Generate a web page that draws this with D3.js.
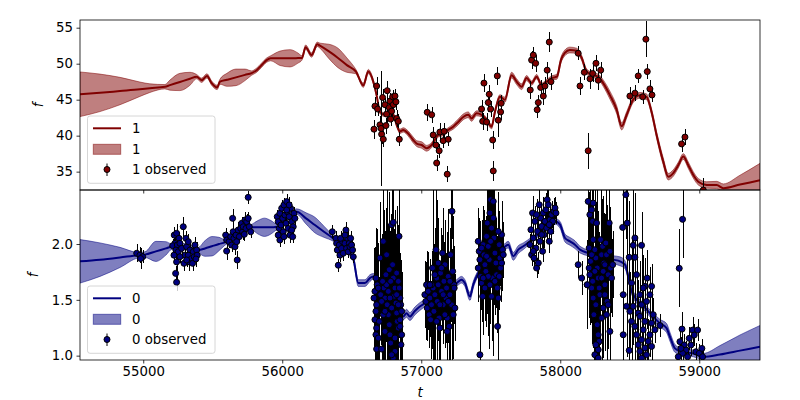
<!DOCTYPE html>
<html><head><meta charset="utf-8">
<script src="https://cdn.jsdelivr.net/npm/d3@7"></script>
<style>body{margin:0;background:#fff} text{font-family:"DejaVu Sans",sans-serif}</style>
</head><body><svg id="c" width="800" height="400"></svg>
<script>
const xTicks = [55000,56000,57000,58000,59000];
const yTicks1 = [35,40,45,50,55];
const yTicks0 = [1.0,1.5,2.0];
const xDomain = [54545,59437];
const yDomain1 = [32.45,56.07];
const yDomain0 = [0.961,2.484];
const seriesNames = ["1","0"];

// model prediction [t, mean, sd]
const model1 = [[54545,45.75,3.1],[54689,45.95,2.6],[54833,46.2,1.9],[54976,46.45,1.0],[55048,46.6,0.6],[55156,46.8,0.3],[55192,47.02,0.7],[55264,47.46,1.2],[55336,47.9,0.9],[55384,48.2,0.3],[55420,47.7,0.3],[55458,48.3,0.3],[55492,47.3,0.3],[55532,46.7,0.3],[55552,47.5,0.35],[55602,47.76,0.9],[55667,48.1,1.15],[55732,48.45,0.8],[55780,48.7,0.3],[55816,49.1,0.3],[55852,49.8,0.3],[55888,50.5,0.3],[55917,50.75,0.35],[55984,50.75,1.0],[56056,50.75,1.2],[56113,50.78,0.7],[56142,50.8,0.3],[56168,52.3,0.3],[56211,51.2,0.3],[56252,52.7,0.3],[56271,52.5,0.35],[56336,51.7,1.0],[56401,50.8,1.35],[56465,49.8,1.0],[56530,48.9,0.3],[56583,47.0,0.3],[56619,48.9,0.3],[56655,47.5,0.3],[56679,45.6,0.25],[56703,43.3,0.25],[56739,42.9,0.25],[56798,42.9,0.25],[56823,41.5,0.25],[56847,40.6,0.3],[56870,40.8,0.3],[56906,40.3,0.35],[56942,39.4,0.4],[56967,38.9,0.4],[57003,38.7,0.45],[57039,38.25,0.4],[57075,38.7,0.35],[57122,40.1,0.3],[57158,40.3,0.3],[57194,40.8,0.3],[57230,41.25,0.35],[57266,41.9,0.4],[57302,42.6,0.4],[57338,42.9,0.4],[57362,42.4,0.4],[57398,43.1,0.35],[57434,42.9,0.3],[57470,42.2,0.3],[57506,41.25,0.3],[57530,43.3,0.3],[57566,45.4,0.3],[57602,45.0,0.35],[57650,48.4,0.4],[57686,47.5,0.4],[57722,46.8,0.4],[57758,48.0,0.35],[57794,47.3,0.3],[57830,48.2,0.3],[57866,47.0,0.3],[57902,47.5,0.3],[57938,48.0,0.3],[57976,48.2,0.35],[58005,50.5,0.4],[58033,51.5,0.4],[58069,51.9,0.4],[58118,51.8,0.35],[58154,50.8,0.35],[58190,48.9,0.35],[58237,48.4,0.35],[58273,48.2,0.35],[58309,47.3,0.45],[58358,45.6,0.55],[58406,43.6,0.55],[58442,41.3,0.5],[58478,42.9,0.45],[58525,45.0,0.4],[58573,45.6,0.4],[58621,45.4,0.4],[58657,43.3,0.4],[58693,40.1,0.45],[58741,36.4,0.5],[58777,34.3,0.45],[58813,34.8,0.45],[58849,35.9,0.4],[58885,37.1,0.4],[58921,35.9,0.45],[58957,34.55,0.45],[58993,33.6,0.45],[59053,33.15,0.45],[59125,33.15,0.5],[59173,32.7,0.6],[59293,33.2,1.3],[59437,33.8,2.35]];

const model0 = [[54545,1.845,0.195],[54689,1.86,0.15],[54833,1.88,0.09],[54964,1.90,0.025],[55012,1.905,0.025],[55091,1.934,0.09],[55163,1.961,0.06],[55204,1.976,0.025],[55300,1.98,0.025],[55396,1.946,0.025],[55444,1.96,0.07],[55494,1.98,0.087],[55545,2.0,0.06],[55588,2.015,0.025],[55696,2.08,0.025],[55780,2.15,0.025],[55825,2.15,0.06],[55872,2.15,0.082],[55919,2.15,0.06],[55960,2.155,0.025],[56034,2.23,0.025],[56104,2.29,0.025],[56171,2.23,0.05],[56235,2.17,0.07],[56300,2.11,0.05],[56367,2.05,0.025],[56451,1.96,0.025],[56511,1.87,0.025],[56547,1.65,0.03],[56595,1.65,0.03],[56631,1.695,0.03],[56655,1.71,0.025],[56761,1.55,0.025],[56870,1.35,0.03],[56894,1.38,0.035],[56918,1.35,0.035],[56954,1.40,0.035],[56990,1.44,0.035],[57026,1.47,0.03],[57134,1.55,0.025],[57254,1.65,0.03],[57290,1.68,0.03],[57314,1.65,0.03],[57350,1.53,0.035],[57374,1.635,0.03],[57410,1.74,0.025],[57494,1.86,0.02],[57590,1.964,0.025],[57626,1.994,0.03],[57662,1.89,0.035],[57698,1.95,0.035],[57734,1.98,0.03],[57854,2.1,0.02],[57962,2.203,0.025],[57998,2.173,0.03],[58034,2.054,0.035],[58070,2.024,0.035],[58106,1.994,0.035],[58142,1.95,0.03],[58271,1.90,0.025],[58381,1.86,0.035],[58430,1.845,0.04],[58466,1.815,0.035],[58489,1.71,0.03],[58514,1.576,0.03],[58609,1.43,0.03],[58717,1.29,0.035],[58765,1.247,0.04],[58789,1.17,0.04],[58825,1.065,0.035],[58873,1.035,0.03],[58957,1.02,0.03],[59029,0.99,0.03],[59149,1.01,0.08],[59293,1.045,0.14],[59437,1.08,0.19]];

// observations [t, f, err]
const observed1 = [[56679,46.9,1.2],[56667,44.1,1.3],[56686,43.7,1.0],[56660,40.9,1.3],[56703,41.5,1.2],[56715,40.2,1.3],[56727,39.5,1.1],[56722,45.3,1.2],[56739,44.3,1.0],[56751,43.0,1.2],[56755,46.25,1.3],[56770,43.9,1.0],[56775,44.8,1.1],[56787,43.4,1.2],[56794,45.4,1.0],[56799,44.3,1.1],[56811,45.5,1.0],[56818,44.7,1.1],[56823,42.4,1.2],[56835,42.0,1.0],[56842,39.5,1.0],[56780,42.3,1.0],[56711,41.0,8.0],[56746,41.4,1.1],
[57043,43.25,1.2],[57075,42.9,1.1],[57086,40.1,1.1],[57106,38.7,1.0],[57111,36.2,1.1],[57129,37.9,1.0],[57134,40.5,1.2],[57165,40.6,1.1],[57158,39.3,1.0],[57194,39.5,1.0],[57187,34.65,1.1],
[57451,47.3,1.3],[57434,43.7,1.2],[57442,42.0,1.2],[57470,41.9,1.2],[57482,44.6,1.3],[57489,45.75,1.3],[57499,43.7,1.1],[57514,39.4,1.2],[57518,35.1,1.4],[57547,48.3,1.2],[57554,42.15,2.4],[57571,43.3,1.1],[57575,44.5,1.1],
[57784,46.35,1.3],[57794,50.5,1.2],[57806,51.2,1.1],[57823,50.05,1.2],[57834,43.6,1.2],[57842,44.6,1.0],[57859,46.7,1.1],[57878,45.5,1.3],[57890,46.9,1.3],[57906,49.1,1.2],[57921,53.0,1.4],[57933,47.5,1.2],
[58129,51.45,1.0],[58142,46.9,1.3],[58173,48.8,1.1],[58201,37.9,2.5],[58214,47.9,1.4],[58233,48.65,1.2],[58257,50.05,1.1],[58273,47.7,1.4],[58291,49.1,1.1],
[58501,45.5,1.3],[58537,45.9,1.1],[58561,48.3,1.0],[58593,45.4,1.0],[58616,53.4,2.5],[58626,48.9,1.0],[58645,46.5,1.3],[58660,45.65,1.0],
[58873,38.85,1.1],[58897,39.8,1.1],[59029,32.45,1.6]];

const observed0 = [[54953,1.917,0.08],[54976,1.90,0.07],[54996,1.886,0.06],[54981,1.87,0.09],
[55223,2.08,0.07],[55240,2.096,0.08],[55257,2.051,0.06],[55228,2.006,0.07],[55212,1.985,0.06],[55245,1.991,0.07],[55264,2.006,0.06],[55235,1.946,0.08],[55252,1.931,0.07],[55276,1.961,0.06],[55288,2.155,0.09],[55307,2.051,0.07],[55312,1.976,0.06],[55324,2.021,0.07],[55336,1.946,0.06],[55300,1.90,0.07],[55324,1.90,0.06],[55331,1.84,0.08],[55348,1.87,0.07],[55360,1.931,0.06],[55372,1.991,0.07],[55367,1.886,0.06],[55384,1.946,0.07],[55388,1.90,0.06],[55355,1.827,0.07],[55240,1.84,0.08],[55233,1.737,0.07],[55240,1.657,0.08],[55264,1.886,0.06],[55293,1.827,0.07],[55312,1.857,0.06],[55379,1.866,0.07],[55221,1.90,0.06],
[55593,2.08,0.06],[55600,2.036,0.07],[55600,1.937,0.08],[55617,2.021,0.06],[55629,2.066,0.07],[55636,1.991,0.06],[55643,2.23,0.08],[55647,2.11,0.07],[55652,2.051,0.06],[55660,1.976,0.07],[55667,2.08,0.06],[55676,1.857,0.08],[55683,2.125,0.07],[55691,2.066,0.06],[55701,2.14,0.07],[55708,2.185,0.06],[55715,2.11,0.07],[55719,2.155,0.06],[55732,2.215,0.07],[55739,2.14,0.06],[55744,2.2,0.07],[55755,2.23,0.06],[55763,2.155,0.07],[55773,2.11,0.06],[55755,2.418,0.06],[55672,2.021,0.07],[55727,2.087,0.06],
[55964,2.245,0.06],[55971,2.2,0.07],[55978,2.14,0.06],[55983,2.275,0.07],[55991,2.17,0.06],[55996,2.32,0.07],[56003,2.23,0.06],[56007,2.11,0.07],[56012,2.35,0.06],[56019,2.26,0.07],[56027,2.185,0.06],[56032,2.38,0.07],[56036,2.29,0.06],[56043,2.14,0.07],[56050,2.245,0.06],[56055,2.08,0.07],[56060,2.32,0.06],[56068,2.2,0.07],[56075,2.066,0.06],[56079,2.155,0.07],[56084,2.275,0.06],[56091,2.23,0.07],[55983,2.036,0.06],[55971,2.08,0.07],[56032,2.305,0.06],[56050,2.35,0.07],[56068,2.125,0.06],[56012,2.066,0.07],
[56360,2.11,0.06],[56386,2.051,0.07],[56391,2.006,0.06],[56396,1.946,0.07],[56403,1.81,0.06],[56410,1.991,0.07],[56415,1.90,0.06],[56427,1.961,0.07],[56434,2.021,0.06],[56439,1.917,0.07],[56451,2.006,0.06],[56458,2.125,0.07],[56463,1.961,0.06],[56470,2.051,0.07],[56475,1.931,0.06],[56482,2.006,0.07],[56487,1.976,0.06],[56492,2.051,0.07],[56499,1.991,0.06],[56506,1.946,0.07],[56511,1.886,0.06],[56420,2.051,0.07],[56451,2.08,0.06],
[56674,1.695,0.45],[56683,1.635,0.5],[56667,1.576,0.4],[56660,1.516,0.45],[56679,1.456,0.5],[56674,1.397,0.4],[56667,1.322,0.45],[56679,1.247,0.4],[56674,1.187,0.35],[56679,1.059,0.3],[56715,1.059,0.5],[56703,1.875,0.5],[56727,2.024,0.8],[56732,1.606,0.7],[56739,1.516,0.6],[56746,1.725,0.6],[56751,1.635,0.5],[56755,1.456,0.5],[56763,1.367,0.5],[56770,1.277,0.6],[56775,1.187,0.5],[56780,1.113,0.45],[56787,2.173,0.9],[56799,2.194,0.9],[56794,1.815,0.8],[56799,1.695,0.7],[56811,1.606,0.7],[56804,1.531,0.6],[56818,1.471,0.6],[56823,1.382,0.5],[56827,1.307,0.45],[56835,1.247,0.4],[56811,1.038,0.5],[56799,0.978,0.5],[56840,2.069,0.5],[56842,1.606,0.45],[56847,1.516,0.4],[56852,1.456,0.4],[56859,1.397,0.35],[56847,1.322,0.4],[56859,1.187,0.3],[56854,1.098,0.3],[56835,1.666,0.5],[56823,1.74,0.6],[56763,1.576,0.6],[56780,1.666,0.6],[56715,1.486,0.6],[56727,1.367,0.6],[56698,1.307,0.4],[56739,1.217,0.5],[56787,1.427,0.7],[56811,1.158,0.5],[56770,1.77,0.7],[56751,1.904,0.6],[56691,1.606,0.4],[56708,1.546,0.45],[56722,1.666,0.6],[56739,1.397,0.6],[56691,1.158,0.4],[56775,1.516,0.6],[56835,1.456,0.45],[56823,1.546,0.5],[56847,1.262,0.35],[56787,1.008,0.6],
[57038,1.635,0.3],[57026,1.546,0.3],[57033,1.486,0.35],[57043,1.427,0.3],[57050,1.576,0.35],[57057,1.367,0.3],[57062,1.516,0.35],[57067,1.322,0.35],[57074,1.456,0.4],[57081,1.785,0.7],[57086,1.606,0.7],[57091,1.397,0.6],[57098,1.546,0.6],[57106,1.949,0.6],[57111,1.695,0.7],[57115,1.486,0.6],[57122,1.635,0.5],[57129,1.337,0.5],[57134,1.247,0.4],[57139,1.74,0.4],[57146,1.576,0.35],[57153,1.919,0.4],[57158,1.456,0.35],[57163,1.666,0.35],[57170,1.815,0.4],[57178,1.516,0.4],[57182,1.606,0.5],[57187,1.337,0.5],[57194,1.71,0.6],[57201,1.262,0.5],[57206,1.546,0.6],[57211,1.904,0.6],[57218,1.456,0.5],[57221,2.293,0.25],[57226,1.755,0.5],[57230,1.367,0.4],[57235,1.635,0.35],[57237,1.606,0.3],[57242,1.427,0.3],[57194,1.486,0.3],[57146,1.785,0.3],[57122,1.83,0.4],[57098,1.725,0.35],[57074,1.635,0.3],[57170,1.367,0.3],[57206,1.666,0.3],[57134,1.456,0.3],[57158,1.546,0.3],[57111,1.307,0.35],[57062,1.635,0.2],[57187,1.217,0.3],
[57410,2.024,0.3],[57417,1.935,0.3],[57422,1.86,0.35],[57410,1.785,0.3],[57427,1.71,0.3],[57434,1.651,0.35],[57442,1.531,0.35],[57422,1.008,0.5],[57446,1.994,0.35],[57451,1.904,0.4],[57458,1.815,0.4],[57465,1.755,0.5],[57470,2.069,0.7],[57475,2.188,0.8],[57482,1.979,0.8],[57489,1.86,0.8],[57494,2.278,0.7],[57499,2.397,0.6],[57506,2.143,0.8],[57513,1.695,0.7],[57518,2.382,0.6],[57523,2.054,0.6],[57530,1.919,0.45],[57537,1.83,0.4],[57542,1.725,0.35],[57547,1.606,0.4],[57554,1.516,0.45],[57549,1.262,0.6],[57561,1.994,0.3],[57566,1.875,0.25],[57571,1.785,0.3],[57578,2.084,0.3],[57585,1.949,0.25],[57590,1.904,0.2],[57578,1.83,0.25],[57506,1.531,0.4],[57494,1.635,0.35],[57458,1.606,0.3],[57530,1.666,0.3],[57561,1.71,0.3],[57434,1.964,0.25],[57470,1.89,0.3],[57499,2.024,0.4],[57518,2.233,0.45],[57554,2.113,0.35],[57482,1.71,0.3],[57446,1.695,0.25],
[57782,1.994,0.1],[57789,2.128,0.12],[57794,1.904,0.1],[57801,2.278,0.15],[57806,2.054,0.12],[57811,1.875,0.1],[57818,2.203,0.14],[57825,1.964,0.1],[57830,1.785,0.09],[57837,2.113,0.12],[57842,1.83,0.1],[57849,2.352,0.15],[57854,2.024,0.11],[57859,2.233,0.13],[57866,2.158,0.12],[57873,1.935,0.1],[57878,2.278,0.14],[57883,2.084,0.12],[57890,2.203,0.13],[57897,2.307,0.15],[57902,2.143,0.12],[57906,2.397,0.15],[57914,2.352,0.14],[57921,2.024,0.1],[57926,2.218,0.13],[57931,2.113,0.11],[57938,2.263,0.12],[57945,2.203,0.11],[57955,2.293,0.12],[57962,2.323,0.1],[57969,2.278,0.1],[57921,2.173,0.12],[57830,2.263,0.14],[57806,1.935,0.1],[57866,2.084,0.12],
[58129,1.815,0.12],[58154,1.695,0.15],[58194,1.635,0.4],[58201,2.382,0.5],[58213,2.263,0.6],[58226,2.307,0.5],[58237,2.367,0.6],[58233,2.203,0.5],[58208,1.964,0.5],[58218,1.845,0.55],[58237,2.039,0.6],[58249,1.949,0.55],[58256,1.875,0.5],[58261,2.188,0.6],[58266,1.785,0.5],[58273,1.695,0.6],[58280,1.606,0.5],[58285,1.546,0.45],[58290,2.039,0.5],[58297,1.904,0.5],[58305,1.979,0.45],[58309,1.755,0.5],[58314,1.83,0.45],[58321,1.635,0.5],[58328,2.009,0.5],[58333,1.904,0.45],[58337,1.486,0.5],[58345,1.725,0.45],[58352,2.188,0.45],[58357,1.935,0.4],[58362,1.785,0.4],[58369,1.695,0.35],[58377,1.815,0.3],[58213,1.725,0.45],[58226,1.606,0.5],[58237,1.516,0.45],[58242,1.367,0.5],[58256,1.456,0.45],[58266,1.277,0.5],[58273,1.187,0.45],[58280,1.128,0.5],[58273,1.053,0.4],[58297,1.337,0.5],[58309,1.427,0.45],[58321,1.546,0.5],[58333,1.367,0.45],[58345,1.456,0.4],[58357,1.217,0.4],[58249,1.755,0.5],[58194,1.635,0.3],[58208,1.785,0.45],[58226,1.904,0.5],[58297,1.695,0.45],[58321,1.815,0.45],[58233,1.666,0.5],[58256,1.098,0.45],[58249,1.008,0.4],[58273,0.978,0.35],
[58472,2.442,0.4],[58449,2.149,0.5],[58482,2.188,0.45],[58537,2.054,0.4],[58525,1.988,0.5],[58496,1.881,0.5],[58537,1.881,0.35],[58585,1.988,0.3],[58625,1.695,0.25],[58609,1.621,0.25],[58657,1.621,0.2],[58453,1.546,0.45],[58573,1.546,0.3],[58645,1.546,0.25],[58477,1.442,0.45],[58525,1.442,0.35],[58585,1.456,0.3],[58621,1.486,0.25],[58501,1.397,0.35],[58561,1.382,0.3],[58513,1.307,0.35],[58573,1.352,0.3],[58609,1.307,0.2],[58657,1.292,0.2],[58537,1.262,0.3],[58597,1.232,0.25],[58645,1.187,0.2],[58453,1.187,0.3],[58549,1.187,0.25],[58585,1.143,0.25],[58633,1.128,0.2],[58561,1.098,0.25],[58609,1.068,0.2],[58657,1.083,0.15],[58496,1.047,0.25],[58573,1.038,0.25],[58621,1.008,0.2],[58585,0.978,0.2],[58717,1.27,0.1],[58681,1.232,0.12],[58669,1.367,0.15],[58597,1.606,0.3],[58549,1.725,0.35],[58513,1.651,0.4],
[58880,2.221,0.35],[58856,1.782,0.35],[58876,1.238,0.15],[58861,1.125,0.1],[58892,1.095,0.1],[58905,1.05,0.08],[58880,1.021,0.08],[58928,1.155,0.1],[58952,1.229,0.12],[58964,1.185,0.1],[58988,1.229,0.1],[58940,1.095,0.1],[58976,1.035,0.08],[59000,1.021,0.08],[59019,1.065,0.08],[59024,0.99,0.08],[58849,0.99,0.1],[58916,0.99,0.08],[58868,1.065,0.1]];

const svg = d3.select("#c");
const L = 80, R = 760;
const x = d3.scaleLinear().domain(xDomain).range([L, R]);

function panel(idx, top, bottom, yDomain, yTicks, fmt, model, obs, color, name, ylabelX, showXLabels) {
  const y = d3.scaleLinear().domain(yDomain).range([bottom, top]);
  const clipId = "clip" + idx;
  svg.append("clipPath").attr("id", clipId).append("rect")
    .attr("x", L).attr("y", top).attr("width", R - L).attr("height", bottom - top);
  const g = svg.append("g").attr("clip-path", `url(#${clipId})`);

  const area = d3.area().x(d => x(d[0])).y0(d => y(d[1] - d[2])).y1(d => y(d[1] + d[2])).curve(d3.curveMonotoneX);
  const line = d3.line().x(d => x(d[0])).y(d => y(d[1])).curve(d3.curveMonotoneX);
  g.append("path").datum(model).attr("d", area)
    .attr("fill", color).attr("fill-opacity", 0.5).attr("stroke", color).attr("stroke-opacity", 0.5).attr("stroke-width", 1);
  g.append("path").datum(model).attr("d", line)
    .attr("fill", "none").attr("stroke", color).attr("stroke-width", 2);
  g.selectAll("line.eb").data(obs).join("line").attr("class", "eb")
    .attr("x1", d => Math.round(x(d[0])) + 0.5).attr("x2", d => Math.round(x(d[0])) + 0.5)
    .attr("y1", d => y(d[1] - d[2])).attr("y2", d => y(d[1] + d[2]))
    .attr("stroke", "#000").attr("stroke-width", 1).attr("shape-rendering", "crispEdges");
  g.selectAll("circle.pt").data(obs).join("circle").attr("class", "pt")
    .attr("cx", d => x(d[0])).attr("cy", d => y(d[1])).attr("r", 3)
    .attr("fill", color).attr("stroke", "#000").attr("stroke-width", 1);

  // axes
  const ya = svg.append("g").attr("transform", `translate(${L},0)`)
    .call(d3.axisLeft(y).tickValues(yTicks).tickFormat(fmt).tickSize(3.5).tickPadding(3.5));
  ya.select(".domain").remove();
  ya.selectAll("line").attr("stroke", "#000").attr("stroke-width", 0.8);
  ya.selectAll("text").attr("font-size", "13.3px").attr("font-family", "DejaVu Sans").attr("fill", "#000");
  const xa = svg.append("g").attr("transform", `translate(0,${bottom})`)
    .call(d3.axisBottom(x).tickValues(xTicks).tickFormat(showXLabels ? d3.format("d") : () => "").tickSize(3.5).tickPadding(3.5));
  xa.select(".domain").remove();
  xa.selectAll("line").attr("stroke", "#000").attr("stroke-width", 0.8);
  xa.selectAll("text").attr("font-size", "13.3px").attr("font-family", "DejaVu Sans").attr("fill", "#000");

  svg.append("rect").attr("x", L).attr("y", top).attr("width", R - L).attr("height", bottom - top)
    .attr("fill", "none").attr("stroke", "#000").attr("stroke-width", 0.8);

  svg.append("text").attr("transform", `translate(${ylabelX},${(top + bottom) / 2}) rotate(-90)`)
    .attr("text-anchor", "middle").attr("dominant-baseline", "central")
    .attr("font-size", "13.3px").attr("font-style", "italic").text("f");

  // legend
  const lg = svg.append("g").attr("transform", `translate(87.5,${top + 96})`);
  lg.append("rect").attr("width", 127.5).attr("height", 67.3).attr("rx", 2.5)
    .attr("fill", "#fff").attr("fill-opacity", 0.8).attr("stroke", "#cccccc").attr("stroke-width", 0.8);
  lg.append("line").attr("x1", 5.5).attr("x2", 33.5).attr("y1", 12.3).attr("y2", 12.3)
    .attr("stroke", color).attr("stroke-width", 2);
  lg.append("rect").attr("x", 5.8).attr("y", 28.3).attr("width", 27.4).attr("height", 10)
    .attr("fill", color).attr("fill-opacity", 0.5).attr("stroke", color).attr("stroke-opacity", 0.5);
  lg.append("line").attr("x1", 19.5).attr("x2", 19.5).attr("y1", 47.5).attr("y2", 60)
    .attr("stroke", "#000").attr("stroke-width", 1);
  lg.append("circle").attr("cx", 19.5).attr("cy", 53.5).attr("r", 3)
    .attr("fill", color).attr("stroke", "#000").attr("stroke-width", 1);
  const labels = [name, name, name + " observed"];
  [12.3, 33.3, 53.5].forEach((yy, i) => {
    lg.append("text").attr("x", 44.5).attr("y", yy).attr("dominant-baseline", "central")
      .attr("font-size", "13.3px").text(labels[i]);
  });
}

panel(1, 20, 190, yDomain1, yTicks1, d3.format("d"), model1, observed1, "#800000", seriesNames[0], 38, false);
panel(0, 190, 360, yDomain0, yTicks0, d3.format(".1f"), model0, observed0, "#000080", seriesNames[1], 33, true);

svg.append("text").attr("x", (L + R) / 2).attr("y", 397).attr("text-anchor", "middle")
  .attr("font-size", "13.3px").attr("font-style", "italic").text("t");
</script></body></html>
